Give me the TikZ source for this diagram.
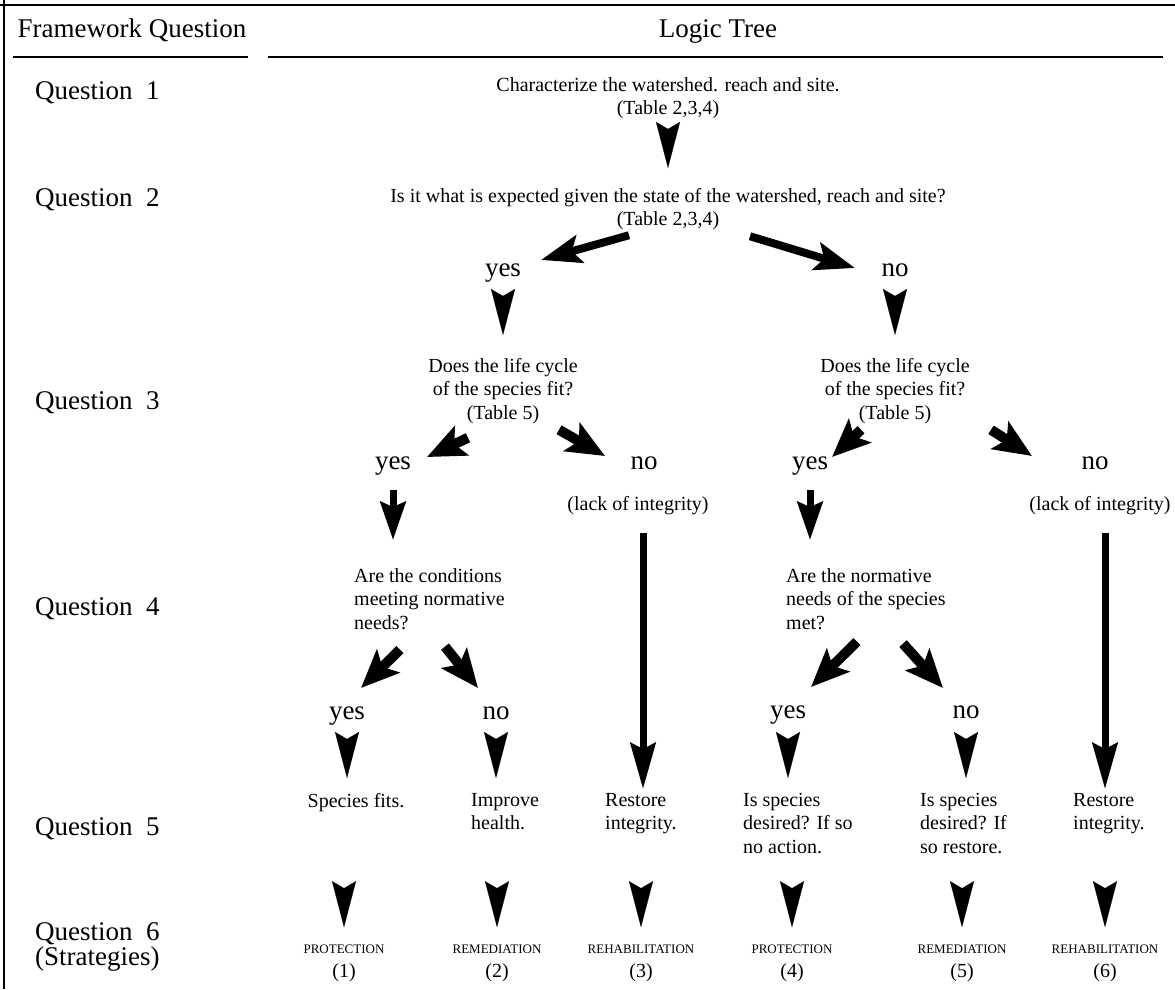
\documentclass[tikz,border=0pt]{standalone}
\usepackage{fontspec}
\setmainfont{Liberation Serif}
\usetikzlibrary{arrows.meta}

\begin{document}
\begin{tikzpicture}[x=1pt, y=-1pt,
    big/.style={font=\fontsize{27}{30}\selectfont, inner sep=0pt, anchor=base},
    txt/.style={font=\fontsize{20}{23.5}\selectfont, inner sep=0pt, align=center, anchor=north},
    ltxt/.style={font=\fontsize{20}{23.5}\selectfont, inner sep=0pt, align=left, anchor=north west},
    capslbl/.style={font=\fontsize{13}{15}\selectfont, inner sep=0pt, anchor=base},
    num/.style={font=\fontsize{20}{23.5}\selectfont, inner sep=0pt, anchor=base},
    headonly/.style={draw=white, line width=0.1pt, -{Stealth[length=46pt, width=24pt, inset=7pt, color=black]}},
    shaft/.style={line width=8pt, -{Stealth[length=40pt, width=28pt, inset=8pt]}},
    stub/.style={line width=10pt, -{Stealth[length=38pt, width=32pt, inset=8pt]}},
    vstub/.style={line width=7pt, -{Stealth[length=38pt, width=25pt, inset=5pt]}},
    longbar/.style={line width=7pt, -{Stealth[length=46pt, width=25pt, inset=6pt]}},
    rule/.style={line width=2pt}]
    \useasboundingbox (0,0) rectangle (1175,989);

    % frame and headings
    \draw[line width=2.5pt] (0,5) -- (1175,5);
    \draw[line width=2.5pt] (4,0) -- (4,989);
    \node[big] (hfq) at (132,37) {Framework Question};
    \node[big] (hlt) at (718,37) {Logic Tree};
    \draw[rule] (13,57) -- (248,57);
    \draw[rule] (268,57) -- (1163,57);

    \node[big, anchor=base west] (lq1) at (35,99) {Question~~1};
    \node[big, anchor=base west] (lq2) at (35,206) {Question~~2};
    \node[big, anchor=base west] (lq3) at (35,409) {Question~~3};
    \node[big, anchor=base west] (lq4) at (35,615) {Question~~4};
    \node[big, anchor=base west] (lq5) at (35,835) {Question~~5};
    \node[big, font=\fontsize{27}{25}\selectfont, anchor=north west, align=left] (lq6) at (35,922) {Question~~6\\(Strategies)};

    % top of the tree
    \node[txt] (q1) at (668,77) {Characterize the watershed. reach and site.\\(Table 2,3,4)};
    \node[txt] (q2) at (668,188) {Is it what is expected given the state of the watershed, reach and site?\\(Table 2,3,4)};
    \draw[headonly, shorten >=20pt] (q1) -- (q2);

    \node[big] (y2) at (503,276) {yes};
    \node[big] (n2) at (895,276) {no};
    \draw[shaft] ([xshift=-39pt,yshift=-5pt]q2.south) -- ([xshift=38pt,yshift=16pt]y2.base);
    \draw[shaft] ([xshift=82pt,yshift=-6pt]q2.south) -- ([xshift=-40pt,yshift=8pt]n2.base);

    % left branch
    \node[txt] (q3l) at (503,358) {Does the life cycle\\of the species fit?\\(Table 5)};
    \draw[headonly, shorten >=23pt] (y2) -- (q3l);
    \node[big] (y3l) at (393,469) {yes};
    \node[big] (n3l) at (644,469) {no};
    \node[txt] (lk3l) at (638,496) {(lack of integrity)};
    \draw[stub] ([xshift=-35pt,yshift=-14pt]q3l.south) -- ([xshift=34pt,yshift=12pt]y3l.base);
    \draw[stub] ([xshift=56pt,yshift=-6pt]q3l.south) -- ([xshift=-39pt,yshift=13pt]n3l.base);

    \node[ltxt] (q4l) at (354,568) {Are the conditions\\meeting normative\\needs?};
    \draw[vstub, shorten <=15pt, shorten >=28pt] (y3l) -- (y3l |- q4l.north);
    \node[big] (y4l) at (347,719) {yes};
    \node[big] (n4l) at (496,719) {no};
    \draw[stub] ([xshift=46pt,yshift=-20pt]q4l.south west) -- ([xshift=14pt,yshift=31pt]y4l.base);
    \draw[stub] ([xshift=91pt,yshift=-17pt]q4l.south west) -- ([xshift=-18pt,yshift=31pt]n4l.base);

    \node[txt] (s1) at (356,793) {Species fits.};
    \node[ltxt] (s2) at (471,793) {Improve\\health.};
    \node[ltxt] (s3) at (605,793) {Restore\\integrity.};
    \draw[headonly, shorten >=15pt] (y4l) -- (y4l |- s1.north);
    \draw[headonly, shorten >=15pt] (n4l) -- (n4l |- s2.north);
    \draw[longbar, shorten <=18pt, shorten >=4pt] ([xshift=5pt]lk3l.south) -- ([xshift=5pt]lk3l.south |- s3.north);

    % right branch
    \node[txt] (q3r) at (895,358) {Does the life cycle\\of the species fit?\\(Table 5)};
    \draw[headonly, shorten >=23pt] (n2) -- (q3r);
    \node[big] (y3r) at (810,469) {yes};
    \node[big] (n3r) at (1095,469) {no};
    \node[txt] (lk3r) at (1100,496) {(lack of integrity)};
    \draw[stub] ([xshift=-34pt,yshift=-6pt]q3r.south) -- ([xshift=22pt,yshift=12pt]y3r.base);
    \draw[stub] ([xshift=96pt,yshift=-6pt]q3r.south) -- ([xshift=-63pt,yshift=13pt]n3r.base);

    \node[ltxt] (q4r) at (786,568) {Are the normative\\needs of the species\\met?};
    \draw[vstub, shorten <=15pt, shorten >=28pt] (y3r) -- (y3r |- q4r.north);
    \node[big] (y4r) at (788,718) {yes};
    \node[big] (n4r) at (966,718) {no};
    \draw[stub] ([xshift=71pt,yshift=-12pt]q4r.south west) -- ([xshift=23pt,yshift=31pt]y4r.base);
    \draw[stub] ([xshift=117pt,yshift=-14pt]q4r.south west) -- ([xshift=-23pt,yshift=30pt]n4r.base);

    \node[ltxt] (s4) at (743,793) {Is species\\desired? If so\\no action.};
    \node[ltxt] (s5) at (920,793) {Is species\\desired? If\\so restore.};
    \node[ltxt] (s6) at (1073,793) {Restore\\integrity.};
    \draw[headonly, shorten >=15pt] (y4r) -- (y4r |- s4.north);
    \draw[headonly, shorten >=15pt] (n4r) -- (n4r |- s5.north);
    \draw[longbar, shorten <=18pt, shorten >=4pt] ([xshift=5pt]lk3r.south) -- ([xshift=5pt]lk3r.south |- s6.north);

    % strategies
    \node[capslbl] (st1) at (344,953) {PROTECTION};
    \node[capslbl] (st2) at (497,953) {REMEDIATION};
    \node[capslbl] (st3) at (641,953) {REHABILITATION};
    \node[capslbl] (st4) at (792,953) {PROTECTION};
    \node[capslbl] (st5) at (962,953) {REMEDIATION};
    \node[capslbl] (st6) at (1105,953) {REHABILITATION};
    \node[num] (nb1) at (344,977) {(1)};
    \node[num] (nb2) at (497,977) {(2)};
    \node[num] (nb3) at (641,977) {(3)};
    \node[num] (nb4) at (792,977) {(4)};
    \node[num] (nb5) at (962,977) {(5)};
    \node[num] (nb6) at (1105,977) {(6)};
    \draw[headonly, shorten >=17pt] (s1.south -| st1) -- (st1);
    \draw[headonly, shorten >=17pt] (s2.south -| st2) -- (st2);
    \draw[headonly, shorten >=17pt] (s3.south -| st3) -- (st3);
    \draw[headonly, shorten >=17pt] (s4.south -| st4) -- (st4);
    \draw[headonly, shorten >=17pt] (s5.south -| st5) -- (st5);
    \draw[headonly, shorten >=17pt] (s6.south -| st6) -- (st6);
\end{tikzpicture}
\end{document}
